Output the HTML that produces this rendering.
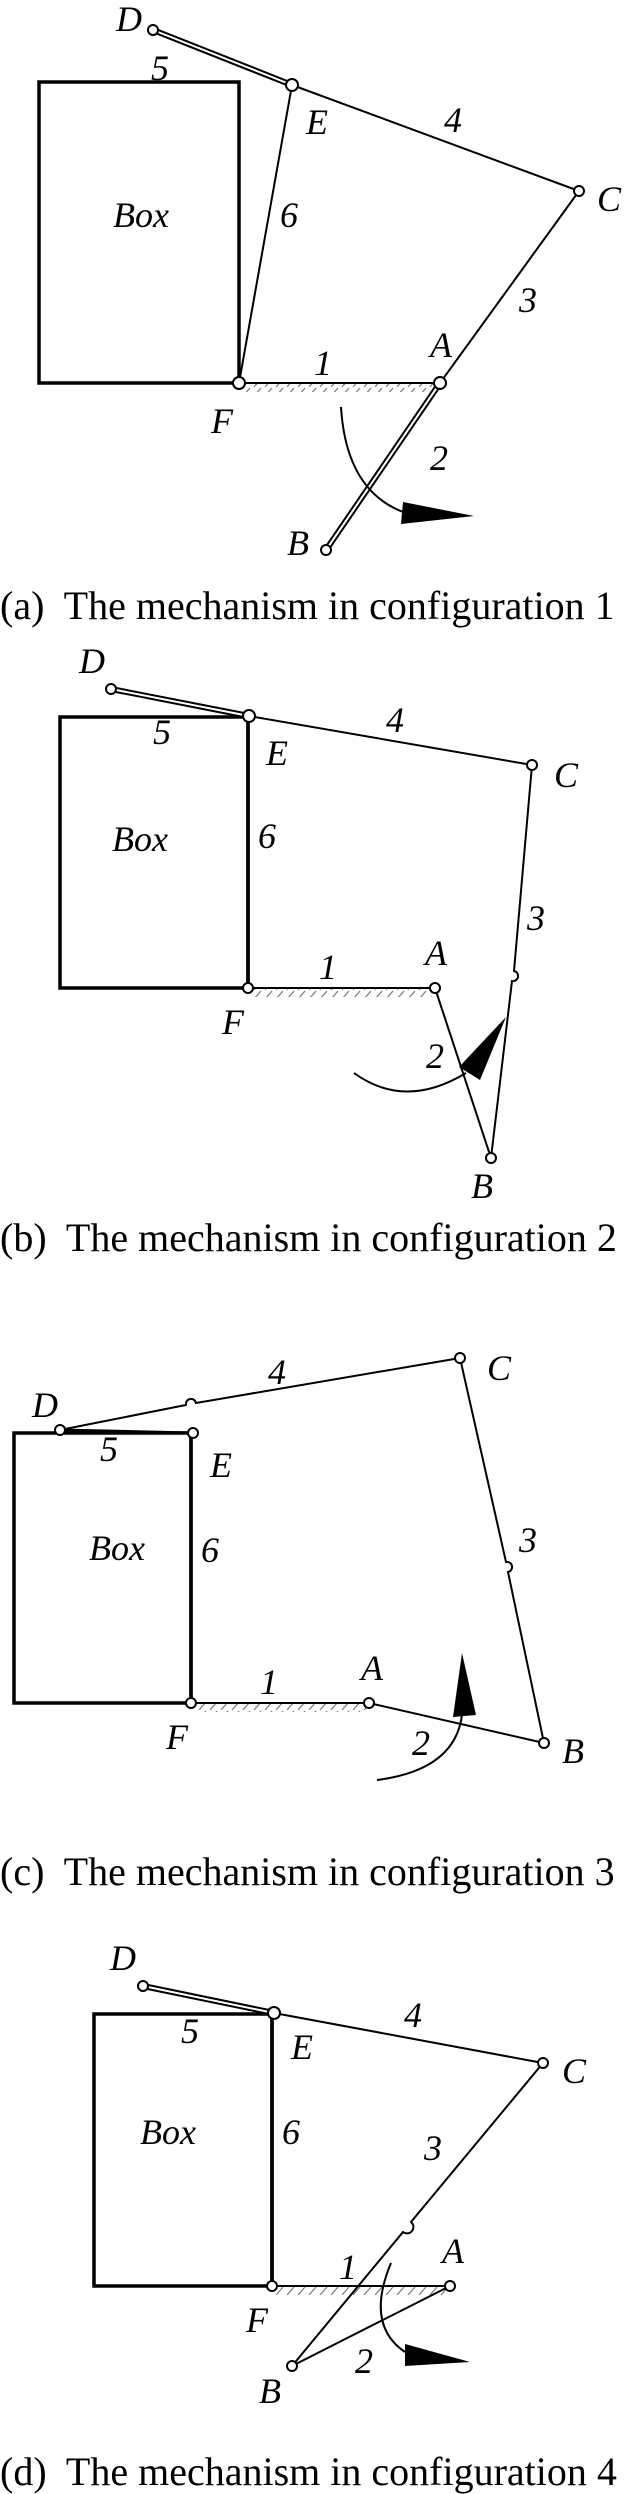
<!DOCTYPE html>
<html><head><meta charset="utf-8"><style>
html,body{margin:0;padding:0;background:#fff;}
svg{display:block;}
.l{font-family:"Liberation Serif",serif;font-style:italic;font-size:36px;text-anchor:middle;fill:#000;}
.cap{font-family:"Liberation Serif",serif;font-size:40px;fill:#000;white-space:pre;}
.ln{stroke:#000;stroke-width:2;fill:none;}
.th{stroke:#000;stroke-width:3.5;fill:none;}
.pv{stroke:#000;stroke-width:2;fill:#fff;}
.hat{stroke:#777;stroke-width:1.2;}
</style></head><body>
<svg width="626" height="2494" viewBox="0 0 626 2494" xmlns="http://www.w3.org/2000/svg">
<defs>
<pattern id="h" width="11" height="9" patternUnits="userSpaceOnUse">
<line x1="1" y1="9" x2="8" y2="1" class="hat"/>
</pattern>
</defs>

<!-- Panel a -->
<rect x="39" y="82" width="200" height="301" class="th"/>
<rect x="243" y="384" width="195" height="8" fill="url(#h)"/>
<line x1="239" y1="383" x2="440" y2="383" class="ln"/>
<line x1="239" y1="383" x2="292" y2="85" class="ln"/>
<line x1="292" y1="85" x2="579" y2="191" class="ln"/>
<line x1="579" y1="191" x2="440" y2="383" class="ln"/>
<line x1="153" y1="30" x2="292" y2="85" stroke="#000" stroke-width="6"/>
<line x1="153" y1="30" x2="292" y2="85" stroke="#fff" stroke-width="2"/>
<line x1="440" y1="383" x2="326" y2="550" stroke="#000" stroke-width="6"/>
<line x1="440" y1="383" x2="326" y2="550" stroke="#fff" stroke-width="2"/>
<path d="M341,407 Q346,490 403,512" class="ln"/>
<polygon points="474,516 403,502 401,524" fill="#000"/>
<circle cx="153" cy="30" r="5" class="pv"/>
<circle cx="292" cy="85" r="6" class="pv"/>
<circle cx="579" cy="191" r="5" class="pv"/>
<circle cx="440" cy="383" r="6" class="pv"/>
<circle cx="239" cy="383" r="6" class="pv"/>
<circle cx="326" cy="550" r="5" class="pv"/>
<text class="l" x="129" y="31">D</text>
<text class="l" x="160" y="80">5</text>
<text class="l" x="317" y="134">E</text>
<text class="l" x="453" y="132">4</text>
<text class="l" x="609" y="211">C</text>
<text class="l" x="141" y="227">Box</text>
<text class="l" x="289" y="227">6</text>
<text class="l" x="528" y="312">3</text>
<text class="l" x="323" y="375">1</text>
<text class="l" x="441" y="357">A</text>
<text class="l" x="222" y="433">F</text>
<text class="l" x="439" y="470">2</text>
<text class="l" x="298" y="555">B</text>
<text class="cap" x="0" y="619" xml:space="preserve">(a)  The mechanism in configuration 1</text>

<!-- Panel b -->
<rect x="60" y="717" width="188" height="271" class="th"/>
<rect x="252" y="989" width="180" height="8" fill="url(#h)"/>
<line x1="248" y1="988" x2="435" y2="988" class="ln"/>
<line x1="248" y1="988" x2="248" y2="716" stroke="#000" stroke-width="3.5"/>
<line x1="249" y1="716" x2="532" y2="765" class="ln"/>
<path d="M532,765 L514,971 A5,5 0 0 1 512,981 L491,1158" class="ln"/>
<line x1="435" y1="988" x2="491" y2="1158" class="ln"/>
<line x1="111" y1="689" x2="249" y2="716" stroke="#000" stroke-width="6"/>
<line x1="111" y1="689" x2="249" y2="716" stroke="#fff" stroke-width="2"/>
<path d="M354,1073 Q405,1110 466,1073" class="ln"/>
<polygon points="506,1017 459,1067 480,1080" fill="#000"/>
<circle cx="111" cy="689" r="5" class="pv"/>
<circle cx="249" cy="716" r="6" class="pv"/>
<circle cx="532" cy="765" r="5" class="pv"/>
<circle cx="435" cy="988" r="5" class="pv"/>
<circle cx="248" cy="988" r="5" class="pv"/>
<circle cx="491" cy="1158" r="5" class="pv"/>
<text class="l" x="92" y="673">D</text>
<text class="l" x="162" y="744">5</text>
<text class="l" x="395" y="732">4</text>
<text class="l" x="277" y="765">E</text>
<text class="l" x="566" y="787">C</text>
<text class="l" x="140" y="851">Box</text>
<text class="l" x="267" y="848">6</text>
<text class="l" x="536" y="930">3</text>
<text class="l" x="436" y="965">A</text>
<text class="l" x="328" y="979">1</text>
<text class="l" x="233" y="1034">F</text>
<text class="l" x="435" y="1068">2</text>
<text class="l" x="482" y="1198">B</text>
<text class="cap" x="0" y="1251" xml:space="preserve">(b)  The mechanism in configuration 2</text>

<!-- Panel c -->
<rect x="14" y="1433" width="177" height="270" class="th"/>
<rect x="195" y="1704" width="172" height="8" fill="url(#h)"/>
<line x1="191" y1="1703" x2="369" y2="1703" class="ln"/>
<line x1="191" y1="1703" x2="191" y2="1433" stroke="#000" stroke-width="3.5"/>
<line x1="60" y1="1430" x2="193" y2="1433" stroke="#000" stroke-width="3"/>
<path d="M60,1430 L186,1405 A5,5 0 0 1 196,1403 L460,1358" class="ln"/>
<path d="M460,1358 L506,1562 A5,5 0 0 1 508,1572 L544,1743" class="ln"/>
<line x1="369" y1="1703" x2="544" y2="1743" class="ln"/>
<path d="M377,1780 Q455,1770 462,1715" class="ln"/>
<polygon points="462,1653 453,1717 476,1715" fill="#000"/>
<circle cx="60" cy="1430" r="5" class="pv"/>
<circle cx="193" cy="1433" r="5" class="pv"/>
<circle cx="460" cy="1358" r="5" class="pv"/>
<circle cx="369" cy="1703" r="5" class="pv"/>
<circle cx="191" cy="1703" r="5" class="pv"/>
<circle cx="544" cy="1743" r="5" class="pv"/>
<text class="l" x="45" y="1417">D</text>
<text class="l" x="277" y="1384">4</text>
<text class="l" x="499" y="1380">C</text>
<text class="l" x="109" y="1461">5</text>
<text class="l" x="221" y="1477">E</text>
<text class="l" x="117" y="1560">Box</text>
<text class="l" x="210" y="1562">6</text>
<text class="l" x="528" y="1552">3</text>
<text class="l" x="269" y="1694">1</text>
<text class="l" x="372" y="1680">A</text>
<text class="l" x="177" y="1749">F</text>
<text class="l" x="421" y="1755">2</text>
<text class="l" x="573" y="1763">B</text>
<text class="cap" x="0" y="1885" xml:space="preserve">(c)  The mechanism in configuration 3</text>

<!-- Panel d -->
<rect x="94" y="2014" width="178" height="272" class="th"/>
<rect x="276" y="2287" width="172" height="8" fill="url(#h)"/>
<line x1="272" y1="2286" x2="450" y2="2286" class="ln"/>
<line x1="272" y1="2286" x2="272" y2="2013" stroke="#000" stroke-width="3.5"/>
<line x1="274" y1="2013" x2="543" y2="2063" class="ln"/>
<path d="M543,2063 L411,2222 A5,5 0 0 1 403,2232 L292,2366" class="ln"/>
<line x1="450" y1="2286" x2="292" y2="2366" class="ln"/>
<line x1="143" y1="1986" x2="274" y2="2013" stroke="#000" stroke-width="6"/>
<line x1="143" y1="1986" x2="274" y2="2013" stroke="#fff" stroke-width="2"/>
<path d="M391,2263 Q365,2325 405,2352" class="ln"/>
<polygon points="470,2362 405,2344 405,2366" fill="#000"/>
<circle cx="143" cy="1986" r="5" class="pv"/>
<circle cx="274" cy="2013" r="6" class="pv"/>
<circle cx="543" cy="2063" r="5" class="pv"/>
<circle cx="450" cy="2286" r="5" class="pv"/>
<circle cx="272" cy="2286" r="5" class="pv"/>
<circle cx="292" cy="2366" r="5" class="pv"/>
<text class="l" x="123" y="1970">D</text>
<text class="l" x="413" y="2027">4</text>
<text class="l" x="574" y="2083">C</text>
<text class="l" x="190" y="2043">5</text>
<text class="l" x="302" y="2059">E</text>
<text class="l" x="168" y="2144">Box</text>
<text class="l" x="291" y="2144">6</text>
<text class="l" x="433" y="2160">3</text>
<text class="l" x="453" y="2263">A</text>
<text class="l" x="348" y="2279">1</text>
<text class="l" x="257" y="2332">F</text>
<text class="l" x="364" y="2373">2</text>
<text class="l" x="270" y="2403">B</text>
<text class="cap" x="0" y="2485" xml:space="preserve">(d)  The mechanism in configuration 4</text>
</svg>
</body></html>
